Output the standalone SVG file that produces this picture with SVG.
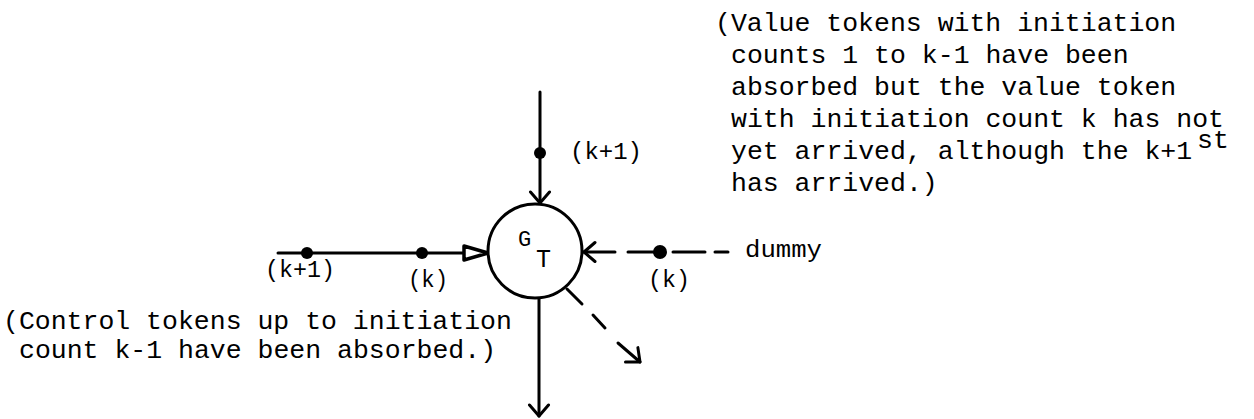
<svg xmlns="http://www.w3.org/2000/svg" width="1254" height="419" viewBox="0 0 1254 419">
<style>
  .ln { stroke:#000; stroke-width:3; fill:none; stroke-linecap:round; }
  .dot { fill:#000; }
  .txt { font-family:"Liberation Mono","DejaVu Sans Mono",monospace; font-size:26.5px; fill:#000; }
  .lbl { font-family:"Liberation Mono","DejaVu Sans Mono",monospace; font-size:24px; fill:#000; }
</style>
<defs>
  <marker id="vhead" viewBox="-14 -12 16 24" refX="0" refY="0" markerWidth="16" markerHeight="24" markerUnits="userSpaceOnUse" orient="auto">
    <path d="M -11 -9.5 L 0 0 L -11 9.5" stroke="#000" stroke-width="3" fill="none" stroke-linecap="round" stroke-linejoin="round"/>
  </marker>
  <marker id="opentri" viewBox="-30 -11 32 22" refX="0" refY="0" markerWidth="32" markerHeight="22" markerUnits="userSpaceOnUse" orient="auto">
    <path d="M -25 -7 L -1 0 L -25 7 Z" stroke="#000" stroke-width="3.5" fill="#fff" stroke-linejoin="round"/>
  </marker>
</defs>
<rect width="1254" height="419" fill="#fff"/>

<g id="connectors">
  <path class="ln" d="M540 92 L540 203" marker-end="url(#vhead)"/>
  <circle class="dot" cx="540" cy="153" r="6"/>
  <path class="ln" d="M278 253 L489 253" marker-end="url(#opentri)"/>
  <circle class="dot" cx="307" cy="253" r="6"/>
  <circle class="dot" cx="422" cy="253" r="6"/>
  <path class="ln" d="M615 252 L584 252" marker-end="url(#vhead)"/>
  <path class="ln" d="M628 252 L660 252"/>
  <circle class="dot" cx="660" cy="252" r="7"/>
  <path class="ln" d="M673 252 L705 252"/>
  <path class="ln" d="M715 252 L728 252"/>
  <path class="ln" d="M539 298 L539 416" marker-end="url(#vhead)"/>
  <path class="ln" d="M567 289 L582 304"/>
  <path class="ln" d="M593 315 L605 328"/>
  <path class="ln" d="M618 343 L640 362" marker-end="url(#vhead)"/>
</g>

<g id="node-GT">
  <circle cx="535" cy="251" r="47" fill="#fff" stroke="#000" stroke-width="3"/>
  <text x="518" y="246" font-family="Liberation Mono, monospace" font-size="22">G</text>
  <text x="536" y="267" font-family="Liberation Mono, monospace" font-size="25">T</text>
</g>

<g id="labels">
  <text class="lbl" x="570" y="159" textLength="72" lengthAdjust="spacingAndGlyphs">(k+1)</text>
  <text class="lbl" x="265" y="277" textLength="70" lengthAdjust="spacingAndGlyphs">(k+1)</text>
  <text class="lbl" x="408" y="287" textLength="40" lengthAdjust="spacingAndGlyphs">(k)</text>
  <text class="lbl" x="648" y="287" textLength="42" lengthAdjust="spacingAndGlyphs">(k)</text>
  <text class="lbl" x="745" y="257" textLength="77" lengthAdjust="spacingAndGlyphs">dummy</text>
</g>

<g id="note-value">
  <text class="txt" x="715" y="31">(Value tokens with initiation</text>
  <text class="txt" x="731" y="63">counts 1 to k-1 have been</text>
  <text class="txt" x="731" y="95">absorbed but the value token</text>
  <text class="txt" x="731" y="127">with initiation count k has not</text>
  <text class="txt" x="731" y="159">yet arrived, although the k+1</text>
  <text class="txt" x="1197" y="148" font-size="24">st</text>
  <text class="txt" x="731" y="191">has arrived.)</text>
</g>

<g id="note-control">
  <text class="txt" x="3" y="329">(Control tokens up to initiation</text>
  <text class="txt" x="19" y="358">count k-1 have been absorbed.)</text>
</g>
</svg>
